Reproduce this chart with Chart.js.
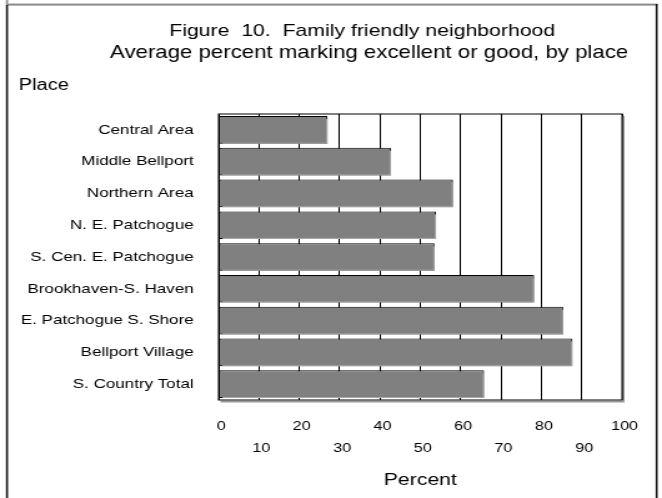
<!DOCTYPE html>
<html>
<head>
<meta charset="utf-8">
<title>Family friendly neighborhood</title>
<script src="https://cdn.jsdelivr.net/npm/chart.js@4/dist/chart.umd.min.js"></script>
<style>
  html, body { margin: 0; padding: 0; background: #fff; }
  #wrap { position: absolute; left: 0; top: 0; width: 662px; height: 498px; }
  #c { display: block; width: 662px !important; height: 498px !important; }
</style>
</head>
<body>
<div id="wrap">
  <!-- drawn at 530 px wide and shown at 662 px, giving the wide lettering of the figure -->
  <canvas id="c" width="530" height="498" style="width:662px;height:498px"></canvas>
</div>
<script>
// ---- data ----
const places = [
  'Central Area',
  'Middle Bellport',
  'Northern Area',
  'N. E. Patchogue',
  'S. Cen. E. Patchogue',
  'Brookhaven-S. Haven',
  'E. Patchogue S. Shore',
  'Bellport Village',
  'S. Country Total'
];
const percents = [27.0, 42.7, 58.1, 53.9, 53.5, 78.2, 85.4, 87.7, 65.8];
const xTickLabels = ['0', '10', '20', '30', '40', '50', '60', '70', '80', '90', '100'];
const titleLines = [
  'Figure  10.  Family friendly neighborhood',
  'Average percent marking excellent or good, by place'
];
const yAxisTitle = 'Place';
const xAxisTitle = 'Percent';

const FONT = "'Liberation Sans', Arial, Helvetica, sans-serif";
Chart.defaults.font.family = FONT;
Chart.defaults.color = '#000';

// page frame, headings and the plot box
const decorations = {
  id: 'decorations',
  beforeDraw(chart) {
    const ctx = chart.ctx;
    ctx.save();
    ctx.fillStyle = '#fff';
    ctx.fillRect(0, 0, chart.width, chart.height);
    // frame
    ctx.fillStyle = '#8a8a8a';
    ctx.fillRect(4.8, 0, 1.6, 4);
    ctx.fillRect(4.8, 3.6, 521.6, 2);
    ctx.fillStyle = '#111';
    ctx.fillRect(4.8, 5, 1.6, chart.height - 5);
    ctx.fillRect(524.9, 4, 1.6, chart.height - 4);
    // headings
    ctx.fillStyle = '#000';
    ctx.textAlign = 'center';
    ctx.textBaseline = 'alphabetic';
    ctx.font = '17px ' + FONT;
    ctx.fillText(titleLines[0], 290, 36);
    ctx.font = '17.8px ' + FONT;
    ctx.fillText(titleLines[1], 295.5, 58);
    ctx.textAlign = 'left';
    ctx.font = '16px ' + FONT;
    ctx.fillText(yAxisTitle, 15, 90);
    ctx.restore();
  },
  beforeDatasetsDraw(chart) {
    const ctx = chart.ctx;
    ctx.save();
    ctx.shadowColor = '#a8a8a8';
    ctx.shadowOffsetX = 1.6;
    ctx.shadowOffsetY = 2;
    ctx.shadowBlur = 0;
  },
  afterDatasetsDraw(chart) {
    const ctx = chart.ctx;
    ctx.restore();
    const a = chart.chartArea;
    ctx.save();
    ctx.strokeStyle = '#9a9a9a';
    ctx.lineWidth = 1.6;
    ctx.beginPath();
    ctx.moveTo(a.right + 1.2, a.top + 2);
    ctx.lineTo(a.right + 1.2, a.bottom + 1.6);
    ctx.lineTo(a.left + 1.6, a.bottom + 1.6);
    ctx.stroke();
    ctx.strokeStyle = '#000';
    ctx.lineWidth = 1;
    ctx.strokeRect(a.left, a.top, a.right - a.left, a.bottom - a.top);
    ctx.restore();
  }
};

new Chart(document.getElementById('c'), {
  type: 'bar',
  data: {
    labels: places,
    datasets: [{
      data: percents,
      backgroundColor: '#808080',
      borderColor: '#000',
      borderWidth: 1,
      borderSkipped: false,
      barPercentage: 0.87,
      categoryPercentage: 1
    }]
  },
  options: {
    indexAxis: 'y',
    responsive: false,
    animation: false,
    devicePixelRatio: 1,
    layout: { padding: { top: 114, right: 32, left: 0, bottom: 0 } },
    plugins: {
      legend: { display: false },
      title: { display: false },
      tooltip: { enabled: false }
    },
    scales: {
      x: {
        min: 0,
        max: 100,
        grid: { color: '#000', lineWidth: 1, drawTicks: false },
        border: { display: false },
        ticks: {
          stepSize: 10,
          autoSkip: false,
          maxRotation: 0,
          padding: 15,
          labelOffset: 2,
          font: { size: 13, lineHeight: 22 / 13 },
          callback: (v, i) => (i % 2 === 0 ? [xTickLabels[i], ''] : ['', xTickLabels[i]])
        },
        title: {
          display: true,
          text: xAxisTitle,
          font: { size: 17 },
          padding: { top: 4, bottom: 7 }
        },
        afterFit: (scale) => { scale.height = 98; }
      },
      y: {
        grid: { display: false, drawTicks: false },
        border: { display: false },
        ticks: {
          padding: 20,
          font: { size: 13.6 }
        },
        afterFit: (scale) => { scale.width = 175; }
      }
    }
  },
  plugins: [decorations]
});
</script>
</body>
</html>
